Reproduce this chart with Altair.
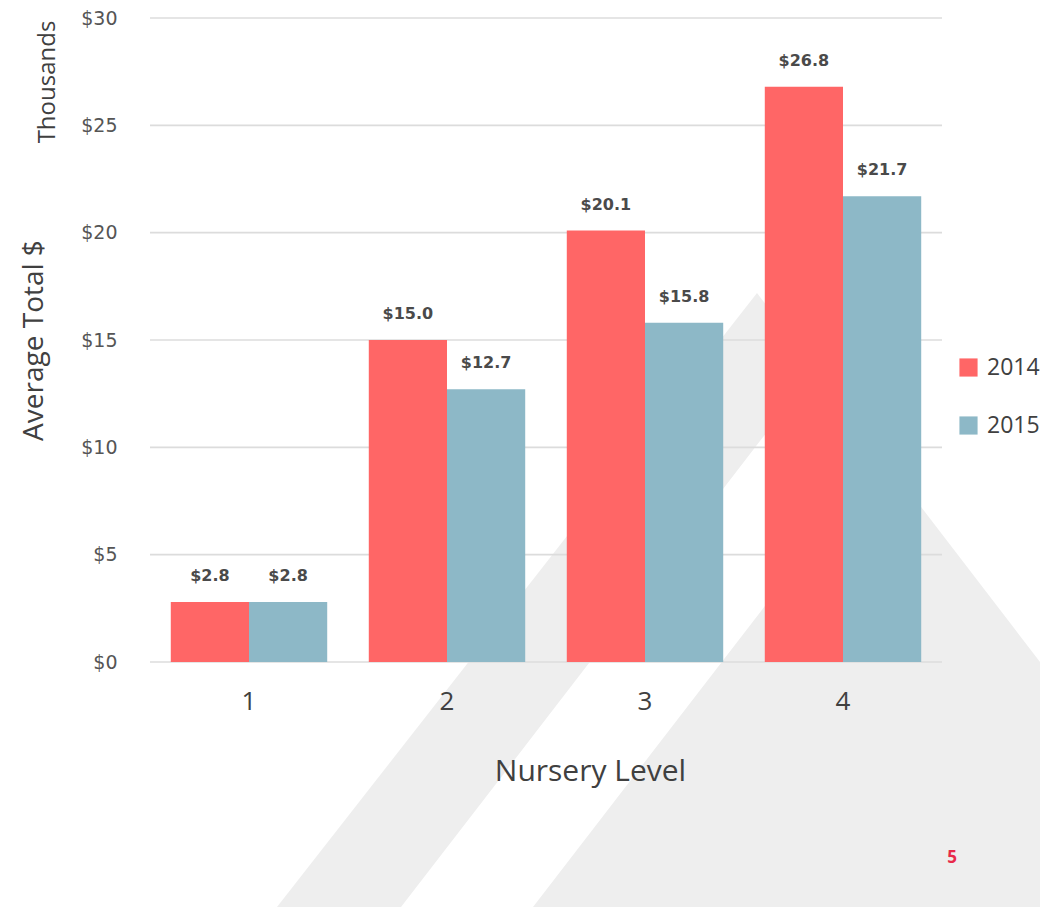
import altair as alt
import pandas as pd

# ---------------- data ----------------
levels = ["1", "2", "3", "4"]
years = ["2014", "2015"]
values_2014 = [2.8, 15.0, 20.1, 26.8]
values_2015 = [2.8, 12.7, 15.8, 21.7]
y_ticks = [0, 5, 10, 15, 20, 25, 30]
colors = ["#FF6666", "#8DB8C7"]

rows = []
for lv, a, b in zip(levels, values_2014, values_2015):
    rows.append({"level": lv, "year": years[0], "value": a})
    rows.append({"level": lv, "year": years[1], "value": b})
df = pd.DataFrame(rows)

# ---------------- page decoration (background design, page pixels) ----------------
tri_x = [277, 757, 1040]
tri_top = [907, 293, 662]
tri_bottom = [907, 907, 907]
stripe_x = [401, 533, 874, 1006]
stripe_top = [907, 735.8, 293, 293]
stripe_bottom = [907, 907, 464.4, 293]

# plot geometry
PL, PT, W, H = 150, 18, 792, 644

dec_x = alt.Scale(domain=[PL, PL + W], nice=False, zero=False)
dec_y = alt.Scale(domain=[-(PT + H), -PT], nice=False, zero=False)


def deco(xs, tops, bottoms, color):
    d = pd.DataFrame({"px": xs, "py": [-v for v in tops], "py2": [-v for v in bottoms]})
    return alt.Chart(d).mark_area(color=color, clip=False).encode(
        x=alt.X("px:Q", scale=dec_x, axis=None),
        y=alt.Y("py:Q", scale=dec_y, axis=None),
        y2="py2:Q",
    )


tri = deco(tri_x, tri_top, tri_bottom, "#EEEEEE")
stripe = deco(stripe_x, stripe_top, stripe_bottom, "#FFFFFF")

# ---------------- chart ----------------
def xscale():
    return alt.Scale(domain=levels, paddingInner=0.21, paddingOuter=0.105)


def yscale():
    return alt.Scale(domain=[0, 30], nice=False, zero=True)


grid = alt.Chart(pd.DataFrame({"t": y_ticks})).mark_rule(
    color="#DCDCDC", strokeWidth=1.6
).encode(y=alt.Y("t:Q", scale=yscale(), axis=None))

bars = alt.Chart(df).mark_bar().encode(
    x=alt.X(
        "level:N",
        scale=xscale(),
        sort=levels,
        axis=alt.Axis(
            title="Nursery Level",
            labelAngle=0,
            ticks=False,
            domain=False,
            grid=False,
            zindex=2,
            labelFont="Open Sans",
            labelFontSize=26,
            labelColor="#404040",
            labelPadding=26,
            titleFont="Open Sans",
            titleFontSize=30,
            titleFontWeight="normal",
            titleColor="#404040",
            titleX=440,
            titleY=118,
            titleAlign="center",
            titleBaseline="alphabetic",
        ),
    ),
    xOffset=alt.XOffset("year:N", sort=years, scale=alt.Scale(domain=years)),
    y=alt.Y(
        "value:Q",
        scale=yscale(),
        axis=alt.Axis(
            values=y_ticks,
            labelExpr="'$' + datum.value",
            grid=False,
            ticks=False,
            domain=False,
            zindex=2,
            labelFont="DejaVu Sans",
            labelFontSize=19,
            labelColor="#555555",
            labelPadding=33,
            title="Average Total $",
            titleFont="Open Sans",
            titleFontSize=28,
            titleFontWeight="normal",
            titleColor="#404040",
            titleAngle=270,
            titleX=-108,
            titleY=322,
            titleAlign="center",
            titleBaseline="alphabetic",
        ),
    ),
    color=alt.Color(
        "year:N",
        scale=alt.Scale(domain=years, range=colors),
        legend=alt.Legend(
            title=None,
            orient="none",
            legendX=807,
            legendY=338,
            symbolType="square",
            symbolSize=330,
            symbolStrokeWidth=0,
            labelFont="Open Sans",
            labelFontSize=23,
            labelColor="#404040",
            labelOffset=7,
            rowPadding=34,
            padding=0,
        ),
    ),
)

labels = alt.Chart(df).mark_text(
    dy=-21,
    baseline="alphabetic",
    align="center",
    font="DejaVu Sans",
    fontSize=16,
    fontWeight="bold",
    color="#4A4A4A",
).encode(
    x=alt.X("level:N", scale=xscale(), sort=levels, axis=None),
    xOffset=alt.XOffset("year:N", sort=years, scale=alt.Scale(domain=years)),
    y=alt.Y("value:Q", scale=yscale(), axis=None),
    text=alt.Text("value:Q", format="$.1f"),
)

one = pd.DataFrame({"k": [0]})
thousands = alt.Chart(one).mark_text(
    text="Thousands",
    font="Open Sans",
    fontSize=24,
    color="#404040",
    angle=270,
    align="center",
    baseline="alphabetic",
).encode(x=alt.value(-95), y=alt.value(64))

page_no = alt.Chart(one).mark_text(
    text="5",
    font="Open Sans",
    fontSize=17,
    fontWeight="bold",
    color="#E8294A",
    align="center",
    baseline="middle",
).encode(x=alt.value(802), y=alt.value(840))

chart = (
    alt.layer(tri, stripe, grid, bars, labels, thousands, page_no)
    .resolve_scale(x="independent", y="independent", xOffset="independent")
    .properties(
        width=W,
        height=H,
        autosize=alt.AutoSizeParams(type="none"),
        padding={"left": 142, "top": 10, "right": 98, "bottom": 245},
        background="#FFFFFF",
    )
    .configure_view(stroke=None)
)

chart.save("out.html", embed_options={"renderer": "svg", "actions": False})
